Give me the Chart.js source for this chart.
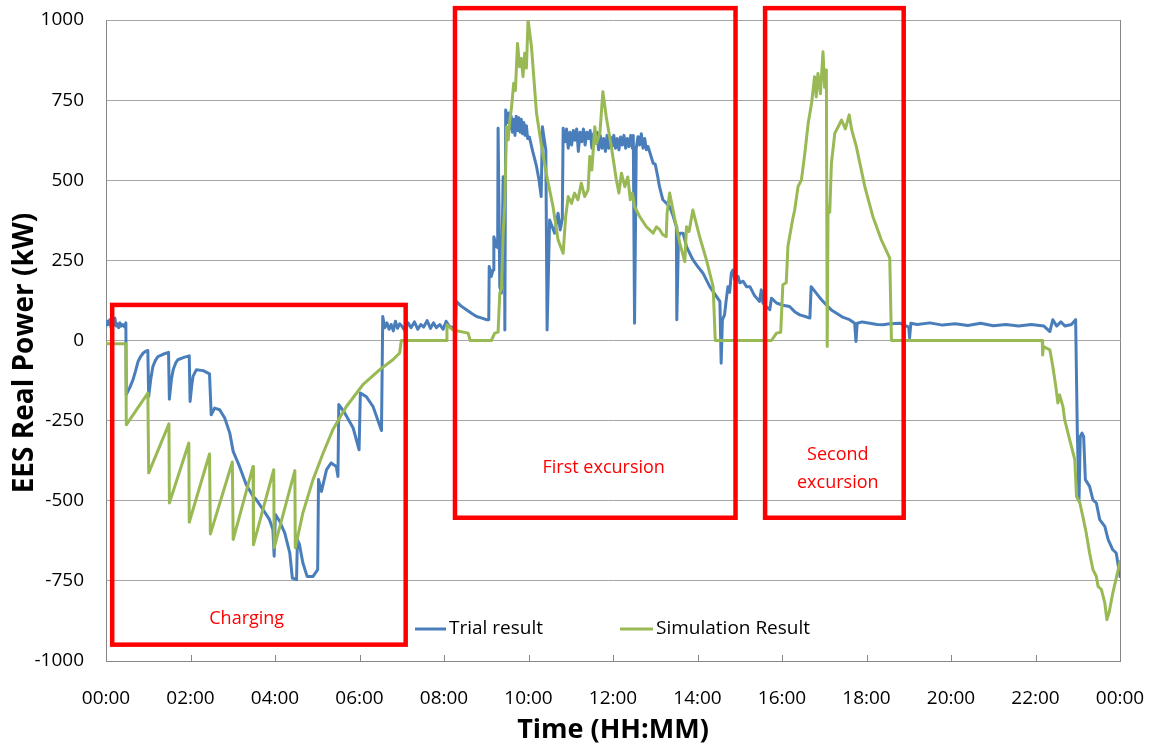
<!DOCTYPE html>
<html><head><meta charset="utf-8">
<script src="https://cdn.jsdelivr.net/npm/chart.js@4"></script>
<style>html,body{margin:0;padding:0;background:#fff;}#wrap{width:1153px;height:746px;}</style>
</head><body><div id="wrap"><canvas id="c" width="1153" height="746"></canvas></div>
<script>
// ---- data (hours since midnight, kW) ----
const trialTime = [0.00,0.03,0.06,0.09,0.12,0.15,0.18,0.21,0.24,0.27,0.30,0.33,0.36,0.40,0.44,0.47,
0.48,0.56,0.64,0.70,0.76,0.82,0.88,0.95,0.99,1.01,1.06,1.11,1.17,1.23,1.35,1.48,1.50,1.55,1.59,1.65,1.70,1.86,1.97,
1.99,2.03,2.06,2.14,2.30,2.45,2.49,2.57,2.69,2.81,2.93,3.01,3.16,3.32,3.48,3.56,3.72,3.87,3.95,3.98,4.01,4.11,4.23,
4.35,4.41,4.51,4.53,4.58,4.66,4.76,4.90,5.01,5.03,5.10,5.22,5.33,5.45,5.49,5.51,5.65,5.85,5.99,6.02,6.16,6.32,6.52,
6.55,6.60,6.65,6.70,6.75,6.80,6.85,6.90,6.95,7.00,7.08,7.15,7.22,7.30,7.38,7.45,7.52,7.60,7.68,7.75,7.82,7.90,7.98,8.05,8.12,8.20,8.27,
8.29,8.40,8.53,8.65,8.77,8.90,9.00,9.06,9.07,9.12,9.16,9.18,9.24,9.27,9.28,9.31,9.32,9.36,9.40,9.43,9.44,9.46,
9.50,9.53,9.56,9.59,9.62,9.65,9.68,9.71,9.74,9.77,9.80,9.83,9.86,9.89,9.92,9.95,9.98,10.02,
10.10,10.19,10.25,10.30,10.33,10.38,10.41,10.44,10.50,10.62,10.70,10.75,10.80,10.82,
10.86,10.90,10.94,10.98,11.02,11.06,11.10,11.14,11.18,11.22,11.26,11.30,11.34,11.38,11.42,11.46,11.50,11.54,11.58,11.62,
11.66,11.70,11.74,11.78,11.82,11.86,11.90,11.94,11.98,12.02,12.06,12.10,12.14,12.18,12.22,12.26,12.30,12.34,12.38,12.42,12.46,12.48,
12.51,12.55,12.59,12.63,12.67,12.71,12.75,12.79,12.83,12.95,13.00,13.06,13.10,13.18,13.34,13.42,13.50,13.51,13.55,13.58,13.66,
13.74,13.89,14.01,14.13,14.29,14.41,14.53,14.56,14.59,14.64,14.68,14.72,14.76,14.80,14.84,14.88,14.92,14.96,15.00,15.08,15.16,
15.24,15.35,15.47,15.51,15.55,15.63,15.71,15.75,15.87,16.02,16.18,16.30,16.42,16.55,16.66,16.69,16.81,16.93,17.05,17.17,17.29,
17.45,17.60,17.72,17.75,17.78,17.90,18.08,18.25,18.39,18.55,18.79,19.00,19.02,19.05,19.20,19.50,19.80,20.10,20.40,20.70,21.00,
21.30,21.60,21.90,22.20,22.34,22.41,22.50,22.60,22.70,22.85,22.95,22.99,23.03,23.06,23.10,23.14,23.18,23.28,23.36,23.44,23.52,
23.64,23.72,23.83,23.91,24.00];
const trialPower = [45,60,50,65,40,55,48,70,45,52,40,55,45,50,42,55,
-169,-148,-122,-95,-65,-50,-39,-33,-31,-175,-120,-81,-62,-50,-43,-37,-183,-120,-91,-70,-60,-52,-48,
-190,-140,-112,-91,-94,-104,-232,-211,-216,-242,-289,-346,-393,-450,-486,-497,-528,-559,-590,-673,-543,-564,-600,
-663,-741,-746,-621,-637,-694,-736,-736,-715,-434,-471,-403,-382,-393,-424,-200,-226,-273,-341,-164,-175,-206,-281,
75,40,55,35,50,30,60,38,52,45,30,55,40,58,35,50,42,62,38,55,40,50,35,60,45,40,45,
122,108,96,85,75,70,65,65,231,200,220,324,293,290,662,300,168,148,511,400,33,719,
680,710,660,700,650,690,640,700,655,695,650,690,645,680,640,670,630,635,
590,543,500,449,667,620,595,33,376,335,397,345,380,662,
620,660,600,650,610,655,625,660,590,650,620,660,610,650,630,655,600,645,615,650,
595,640,600,630,590,640,600,635,605,640,600,630,595,635,610,640,600,630,605,640,600,640,
54,600,636,610,645,600,630,595,605,553,550,510,480,439,418,390,355,65,320,335,335,
293,252,230,210,168,145,122,-71,65,80,127,168,150,210,220,190,189,200,180,185,168,
168,140,122,158,117,105,96,132,117,110,106,90,80,75,70,168,148,128,111,95,85,
72,65,54,-3,54,58,54,50,49,52,54,42,8,54,50,55,48,52,47,54,46,
50,45,50,45,28,65,45,58,45,50,65,-289,-497,-299,-289,-300,-434,-455,-497,-507,-559,
-580,-621,-653,-663,-736];

const simTime = [0,0.47,0.48,0.99,1.01,1.49,1.50,1.96,1.97,2.45,2.47,2.99,3.01,3.48,3.49,3.97,3.98,4.47,4.48,
4.66,4.90,5.14,5.37,5.69,6.08,6.48,6.79,6.95,6.99,8.06,8.07,8.21,8.57,8.62,9.12,9.20,9.28,9.32,9.36,9.40,9.44,
9.48,9.52,9.56,9.60,9.65,9.69,9.74,9.79,9.83,9.87,9.91,9.95,9.99,10.07,10.19,10.31,10.42,10.58,10.70,10.82,10.88,
10.94,11.02,11.09,11.17,11.25,11.33,11.41,11.45,11.50,11.57,11.61,11.69,11.76,11.84,11.96,12.08,12.14,12.20,12.28,
12.35,12.41,12.46,12.51,12.63,12.79,12.95,13.03,13.11,13.18,13.26,13.28,13.34,13.42,13.58,13.70,13.74,13.80,13.89,
14.05,14.21,14.37,14.42,15.75,15.87,15.97,16.02,16.10,16.14,16.18,16.25,16.30,16.38,16.46,16.54,16.62,16.70,16.77,
16.81,16.85,16.91,16.97,17.01,17.05,17.07,17.09,17.13,17.17,17.25,17.33,17.41,17.50,17.59,17.65,17.76,17.96,18.15,
18.35,18.55,18.59,22.16,22.17,22.19,22.34,22.41,22.48,22.53,22.57,22.65,22.69,22.81,22.93,22.97,23.05,23.12,23.20,
23.28,23.36,23.44,23.48,23.56,23.64,23.69,23.74,23.83,24.00];
const simPower = [-10,-10,-263,-164,-413,-260,-507,-320,-567,-354,-604,-379,-621,-393,-637,-403,-647,-406,-647,
-538,-434,-351,-278,-206,-138,-91,-60,-39,0,0,49,33,23,0,0,23,26,148,160,335,428,
667,626,688,730,803,780,927,854,880,823,896,850,1000,917,709,605,522,418,314,272,387,
449,428,460,439,491,449,470,574,532,667,615,647,776,698,605,501,460,522,480,
510,439,460,418,387,355,335,355,345,330,324,397,460,407,304,246,355,340,407,
324,252,168,0,0,23,26,174,180,293,324,376,407,480,501,584,678,740,823,
760,833,770,901,790,844,-19,418,400,553,647,667,688,660,704,657,605,480,387,
314,257,0,0,-45,-19,-29,-81,-143,-195,-170,-206,-247,-310,-372,-486,-507,-549,-600,
-663,-715,-736,-767,-777,-819,-871,-850,-788,-690];

const timeLabels = ['00:00','02:00','04:00','06:00','08:00','10:00','12:00','14:00','16:00','18:00','20:00','22:00','00:00'];
const seriesLabels = ['Trial result', 'Simulation Result'];
const regionNames = [['Charging'], ['First excursion'], ['Second', 'excursion']];
// region extents: [startHour, endHour, topKW, bottomKW]
const regionExtents = [[0.147, 7.093, 111, -949], [8.26, 14.90, 1037, -553], [15.60, 18.88, 1037, -553]];
// label anchor: [hour, kW]
const regionLabelAt = [[3.33, -868], [11.78, -397], [17.32, -400]];

const BLUE = '#4A7EBB', GREEN = '#98B954', RED = '#FF0000';
const FONT = "'Open Sans', 'Liberation Sans', sans-serif";

const decor = {
  id: 'decor',
  afterDraw(chart) {
    const {ctx, chartArea: ca, scales: {x, y}} = chart;
    ctx.save();
    ctx.strokeStyle = '#878787'; ctx.lineWidth = 1;
    for (let h = 2; h < 24; h += 2) {
      const px = Math.round(x.getPixelForValue(h)) + 0.5;
      ctx.beginPath(); ctx.moveTo(px, ca.bottom); ctx.lineTo(px, ca.bottom - 6); ctx.stroke();
    }
    const rx = Math.round(x.getPixelForValue(24)) + 0.5;
    ctx.beginPath(); ctx.moveTo(rx, ca.top); ctx.lineTo(rx, ca.bottom); ctx.stroke();

    ctx.strokeStyle = RED; ctx.lineWidth = 4.5; ctx.lineJoin = 'miter';
    regionExtents.forEach(r => {
      const x0 = x.getPixelForValue(r[0]), x1 = x.getPixelForValue(r[1]);
      const y0 = y.getPixelForValue(r[2]), y1 = y.getPixelForValue(r[3]);
      ctx.strokeRect(x0, y0, x1 - x0, y1 - y0);
    });
    ctx.fillStyle = RED; ctx.font = '18px ' + FONT; ctx.textAlign = 'center'; ctx.textBaseline = 'middle';
    regionNames.forEach((lines, i) => {
      const px = x.getPixelForValue(regionLabelAt[i][0]);
      const py = y.getPixelForValue(regionLabelAt[i][1]);
      const lh = 27.5;
      lines.forEach((t, k) => ctx.fillText(t, px, py + (k - (lines.length - 1) / 2) * lh));
    });

    ctx.font = '19px ' + FONT; ctx.textAlign = 'left'; ctx.fillStyle = '#000';
    const legendItems = [[415, 446, 449, BLUE], [620, 653, 656, GREEN]];
    legendItems.forEach((it, i) => {
      ctx.strokeStyle = it[3]; ctx.lineWidth = 3;
      ctx.beginPath(); ctx.moveTo(it[0], 629); ctx.lineTo(it[1], 629); ctx.stroke();
      ctx.fillText(seriesLabels[i], it[2], 629);
    });

    ctx.fillStyle = '#000';
    ctx.font = 'bold 27px ' + FONT; ctx.textAlign = 'center'; ctx.textBaseline = 'alphabetic';
    ctx.fillText('Time (HH:MM)', (ca.left + ca.right) / 2, 738);
    ctx.save();
    ctx.translate(33, 353); ctx.rotate(-Math.PI / 2);
    ctx.font = 'bold 28px ' + FONT;
    ctx.fillText('EES Real Power (kW)', 0, 0);
    ctx.restore();
    ctx.restore();
  }
};

const toPts = (ts, vs) => ts.map((t, i) => ({x: t, y: vs[i]}));
const noPad = s => { s.paddingLeft = 0; s.paddingRight = 0; s.paddingTop = 0; s.paddingBottom = 0; };

new Chart(document.getElementById('c'), {
  type: 'line',
  data: {
    datasets: [
      {label: seriesLabels[0], data: toPts(trialTime, trialPower), borderColor: BLUE, backgroundColor: BLUE,
       borderWidth: 3, pointRadius: 0, tension: 0, order: 2, borderJoinStyle: 'round', borderCapStyle: 'round'},
      {label: seriesLabels[1], data: toPts(simTime, simPower), borderColor: GREEN, backgroundColor: GREEN,
       borderWidth: 3, pointRadius: 0, tension: 0, order: 1, borderJoinStyle: 'round', borderCapStyle: 'round'}
    ]
  },
  options: {
    responsive: false, animation: false, devicePixelRatio: 1,
    layout: {padding: {top: 20, right: 33, left: 0, bottom: 0}},
    plugins: {legend: {display: false}, tooltip: {enabled: false}},
    scales: {
      x: {type: 'linear', min: 0, max: 24,
          ticks: {stepSize: 2, autoSkip: false, maxRotation: 0, padding: 18, color: '#000',
                  font: {family: FONT, size: 19}, callback: (v, i) => timeLabels[i]},
          grid: {display: false}, border: {display: true, color: '#878787', width: 1},
          afterFit: s => { s.height = 85; noPad(s); }},
      y: {type: 'linear', min: -1000, max: 1000,
          ticks: {stepSize: 250, padding: 22, color: '#000', font: {family: FONT, size: 19}, callback: v => String(v)},
          grid: {color: '#a6a6a6', lineWidth: 1, drawTicks: false},
          border: {display: true, color: '#878787', width: 1},
          afterFit: s => { s.width = 106; noPad(s); }}
    }
  },
  plugins: [decor]
});
</script></body></html>
